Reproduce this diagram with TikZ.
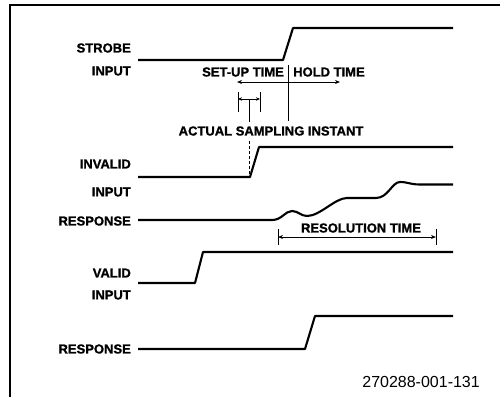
\documentclass[tikz,border=0pt]{standalone}
\usepackage{fontspec}
\setmainfont{Liberation Sans}[BoldFeatures={FakeBold=1.2}]
\usetikzlibrary{arrows.meta}
\begin{document}
\begin{tikzpicture}[x=1pt,y=-1pt,
  lbl/.style={font=\fontsize{13}{15}\selectfont\bfseries, inner sep=0pt},
  rlbl/.style={lbl, anchor=east},
  sig/.style={line width=2.1pt, line join=round},
  thin/.style={line width=1pt},
  dim/.style={line width=1pt, {Stealth[length=5pt,width=4pt]}-{Stealth[length=5pt,width=4pt]}}]
\useasboundingbox (0,0) rectangle (500,397);
% frame
\draw[line width=1.2pt] (500,5) -- (10,5) -- (10,397);
% labels
\node[rlbl] (lstrobe) at (131,48) {STROBE};
\node[rlbl] (lin1) at (131,71) {INPUT};
\node[rlbl] (linv) at (131,164) {INVALID};
\node[rlbl] (lin2) at (131,192) {INPUT};
\node[rlbl] (lresp1) at (131,221) {RESPONSE};
\node[rlbl] (lvalid) at (131,273) {VALID};
\node[rlbl] (lin3) at (131,295) {INPUT};
\node[rlbl] (lresp2) at (131,349) {RESPONSE};
% strobe signal
\coordinate (s0) at (138,60); \coordinate (s1) at (283,60);
\coordinate (s2) at (293,28); \coordinate (s3) at (453,28);
\draw[sig] (s0) -- (s1) -- (s2) -- (s3);
% set-up / hold
\node[lbl, anchor=east] (setup) at (284,72) {SET-UP TIME};
\node[lbl, anchor=west] (hold) at (293,72) {HOLD TIME};
\coordinate (v0) at (288,65); \coordinate (v1) at (288,121);
\draw[thin] (v0) -- (v1);
\coordinate (a0) at (237,82); \coordinate (a1) at (340,82);
\draw[dim] (a0) -- (a1);
% small sampling bracket
\coordinate (t0a) at (238,92); \coordinate (t0b) at (238,112);
\coordinate (t1a) at (260,92); \coordinate (t1b) at (260,112);
\draw[thin] (t0a) -- (t0b) (t1a) -- (t1b);
\coordinate (b0) at (238,99); \coordinate (b1) at (260,99);
\draw[line width=1pt, {Stealth[length=4pt,width=3.5pt]}-{Stealth[length=4pt,width=3.5pt]}] (b0) -- (b1);
\coordinate (c0) at (249,99); \coordinate (c1) at (249,122);
\draw[thin] (c0) -- (c1);
\node[lbl] (asi) at (271,131) {ACTUAL SAMPLING INSTANT};
\coordinate (d0) at (249,141); \coordinate (d1) at (249,176);
\draw[line width=0.7pt, dash pattern=on 3pt off 2pt] (d0) -- (d1);
% invalid input
\coordinate (i0) at (138,177); \coordinate (i1) at (250,177);
\coordinate (i2) at (259,147); \coordinate (i3) at (453,147);
\draw[sig] (i0) -- (i1) -- (i2) -- (i3);
% response (metastable)
\draw[sig] (138,220) -- (272,220)
  .. controls (282,220) and (285,211) .. (292,211)
  .. controls (298,211) and (301,216) .. (307,216)
  .. controls (320,216) and (335,198) .. (347,198)
  -- (376,198)
  .. controls (388,198) and (392,182) .. (400,182)
  .. controls (408,182) and (410,184.5) .. (420,184.5)
  -- (453,184.5);
% resolution time
\node[lbl] (rt) at (361,228) {RESOLUTION TIME};
\coordinate (r0a) at (278,229); \coordinate (r0b) at (278,245);
\coordinate (r1a) at (436,229); \coordinate (r1b) at (436,245);
\draw[thin] (r0a) -- (r0b) (r1a) -- (r1b);
\coordinate (r0) at (278,237); \coordinate (r1) at (436,237);
\draw[dim] (r0) -- (r1);
% valid input
\coordinate (w0) at (138,283); \coordinate (w1) at (195,283);
\coordinate (w2) at (203,252); \coordinate (w3) at (453,252);
\draw[sig] (w0) -- (w1) -- (w2) -- (w3);
% response
\coordinate (q0) at (138,349); \coordinate (q1) at (305,349);
\coordinate (q2) at (315,316); \coordinate (q3) at (453,316);
\draw[sig] (q0) -- (q1) -- (q2) -- (q3);
% figure number
\node[font=\fontsize{16}{18}\selectfont, inner sep=0pt, anchor=east] (fig) at (480,382) {270288-001-131};
\end{tikzpicture}
\end{document}
